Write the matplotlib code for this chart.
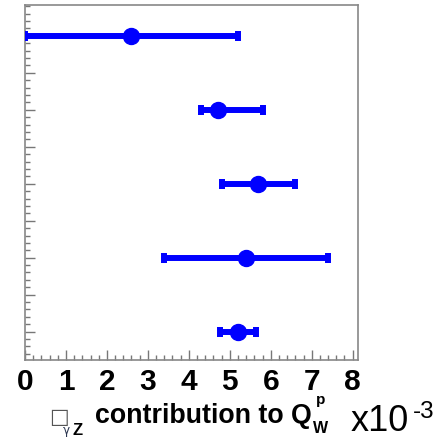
import matplotlib
matplotlib.use("Agg")
import matplotlib.pyplot as plt
from matplotlib.ticker import MultipleLocator, NullFormatter

# Box gamma-Z contribution estimates (units of 1e-3), top to bottom
centers = [2.6, 4.7, 5.7, 5.4, 5.2]
err_low = [2.6, 0.4, 0.9, 2.0, 0.43]
err_high = [2.6, 1.1, 0.9, 2.0, 0.43]
rows = [9, 7, 5, 3, 1]
xticks = [0, 1, 2, 3, 4, 5, 6, 7, 8]

W, H = 444, 439
SANS = "Liberation Sans"

fig = plt.figure(figsize=(W / 100, H / 100), dpi=100)
ax = fig.add_axes([25 / W, 1 - 361 / H, (358 - 25) / W, (361 - 6) / H])

ax.errorbar(centers, rows, xerr=[err_low, err_high], fmt="o", color="#0000ff",
            ecolor="#0000ff", markersize=11.5, elinewidth=4.3, capsize=3.4,
            capthick=4.3, zorder=3)

ax.set_xlim(0, 8.13)
ax.set_ylim(0.235, 9.83)
ax.xaxis.set_minor_locator(MultipleLocator(0.2))
ax.yaxis.set_major_locator(MultipleLocator(1))
ax.yaxis.set_minor_locator(MultipleLocator(0.2))
ax.yaxis.set_major_formatter(NullFormatter())
ax.set_xticks(xticks)
ax.set_xticklabels([str(t) for t in xticks], fontfamily=SANS,
                   fontweight="bold", fontsize=21.5)
ax.tick_params(axis="both", which="both", direction="in", color="#777777",
               top=False, right=False)
ax.tick_params(axis="both", which="major", length=7, width=1)
ax.tick_params(axis="both", which="minor", length=3.5, width=1)
ax.tick_params(axis="x", which="major", pad=5)
for s in ax.spines.values():
    s.set_color("#888888")
    s.set_linewidth(1.2)

renderer = fig.canvas.get_renderer()


def put(x0, baseline, s, size, x1=None, **kw):
    """Text starting at pixel column x0 with its baseline on pixel row
    `baseline`; if x1 is given the font is rescaled so the text ends there."""
    t = fig.text(x0 / W, 1 - baseline / H, s, fontsize=size, ha="left",
                 va="baseline", **kw)
    if x1 is not None:
        bb = t.get_window_extent(renderer)
        t.set_fontsize(size * (x1 - x0) / bb.width)
    return t


# Axis title pieces
put(49, 423, "\u25a1", 15, fontfamily="DejaVu Sans", color="#555555")
put(63, 434, "\u03b3", 8.5, fontfamily="DejaVu Sans", color="#2a3550")
put(72, 435, "Z", 12, fontfamily=SANS, fontweight="bold")
put(95, 423, "contribution to Q", 19, x1=312, fontfamily=SANS,
    fontweight="bold")
put(316, 404, "p", 11, fontfamily=SANS, fontweight="bold")
put(313, 433, "W", 11.5, fontfamily=SANS, fontweight="bold")
put(351, 431, "x10", 26, fontfamily=SANS)
put(413, 418, "-3", 17.5, fontfamily=SANS)

fig.savefig("out.png", dpi=100)
